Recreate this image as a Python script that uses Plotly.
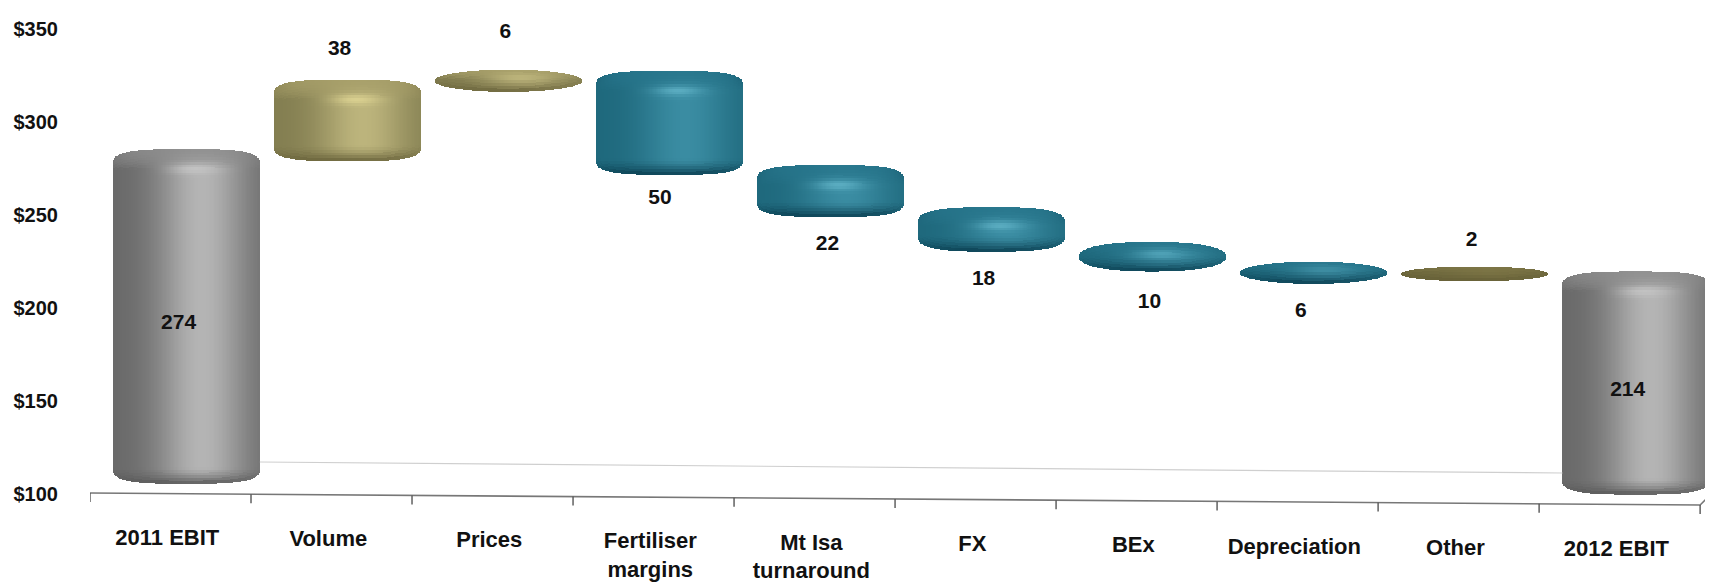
import math
import plotly.graph_objects as go

# ---- chart data ----
categories = ["2011 EBIT", "Volume", "Prices", "Fertiliser<br>margins", "Mt Isa<br>turnaround",
              "FX", "BEx", "Depreciation", "Other", "2012 EBIT"]
bar_bases = [100, 274, 312, 268, 246, 228, 218, 212, 214, 100]
bar_tops = [274, 312, 318, 318, 268, 246, 228, 218, 216, 214]
bar_labels = ["274", "38", "6", "50", "22", "18", "10", "6", "2", "214"]
bar_kinds = ["total", "up", "up", "down", "down", "down", "down", "down", "minor", "total"]
label_values = [191.6, 338.8, 348, 259, 234, 215, 203, 198, 236, 155.5]
label_x_offsets = [0.05, 0.05, 0.08, 0.04, 0.08, 0.05, 0.08, 0.02, 0.08, 0.05]
y_ticks = [100, 150, 200, 250, 300, 350]

# ---- styling / layout constants ----
PAGE_MARGIN = 8
W, H = 1713, 585
LEFT = 90
PX_PER_UNIT = 1.86
Y0_PX = 494
X_MIN, X_MAX = -0.5, 9.58
BAR_SHIFT, BAR_WIDTH = 0.1, 0.91
N_STRIPS = 110
SLICE_PX = 2.5
PALETTE = {
    "total": dict(dark=(104, 104, 104), light=(180, 180, 180), cap=(140, 140, 140), hi=(198, 198, 198), low=(88, 88, 88)),
    "up": dict(dark=(130, 125, 80), light=(188, 180, 124), cap=(165, 157, 104), hi=(224, 214, 148), low=(104, 98, 58)),
    "down": dict(dark=(30, 104, 124), light=(58, 140, 162), cap=(38, 116, 138), hi=(98, 180, 200), low=(10, 62, 80)),
    "minor": dict(dark=(114, 108, 64), light=(132, 124, 74), cap=(124, 117, 70), hi=(132, 124, 74), low=(100, 94, 54)),
}


def units(px):
    return px / PX_PER_UNIT


def val_from_px(py):
    return 100 + (Y0_PX - py) / PX_PER_UNIT


def mix(a, b, t):
    t = max(0.0, min(1.0, t))
    return tuple(a[i] + (b[i] - a[i]) * t for i in range(3))


def rgb(c):
    return "rgb(%d,%d,%d)" % tuple(round(v) for v in c)


def tilt(i):
    return 13 - 1.2 * i  # px the bars sit above the wall scale


def slice_cuts(span, top_zone, bot_zone):
    """Fine slices in the rounded top and bottom, one long slice between them."""
    if top_zone + bot_zone >= span:
        n = max(1, int(span / SLICE_PX))
        return [span * k / n for k in range(n + 1)]
    n_t = max(1, int(top_zone / SLICE_PX))
    n_b = max(1, int(bot_zone / SLICE_PX))
    cuts = [top_zone * k / n_t for k in range(n_t + 1)]
    cuts += [span - bot_zone + bot_zone * k / n_b for k in range(n_b + 1)]
    return cuts


xs, bases, heights, colors, widths = [], [], [], [], []
strip_w = BAR_WIDTH / N_STRIPS
for i, (b0, b1, kind) in enumerate(zip(bar_bases, bar_tops, bar_kinds)):
    pal = PALETTE[kind]
    top_px = Y0_PX - (b1 - 100) * PX_PER_UNIT - tilt(i) - 8
    bot_px = Y0_PX - (b0 - 100) * PX_PER_UNIT - tilt(i) + 2.5
    h_px = bot_px - top_px
    p = 2 + min(1.2, max(0.0, (h_px - 22) / 25))
    rv = min(h_px / 2, 16)
    cap_h = min(20, h_px * 0.42)
    glow_amt = 0.8 * min(1.0, max(0.0, (h_px - 16) / 20))
    for s in range(N_STRIPS):
        u = -1 + (s + 0.5) * 2 / N_STRIPS
        au = abs(u)
        dy = rv * (1 - max(0.0, 1 - au ** p) ** (1 / p))
        t_px, b_px = top_px + dy, bot_px - dy
        f = math.exp(-((u - 0.22) / 0.62) ** 2)
        body = mix(pal["dark"], pal["light"], f)
        span = b_px - t_px
        bot_zone = 16
        cuts = slice_cuts(span, max(0.0, cap_h + 14 - dy), max(0.0, bot_zone - dy))
        for a, b in zip(cuts[:-1], cuts[1:]):
            if b <= a:
                continue
            v = (a + b) / 2 + dy
            col = body
            rim = cap_h
            if v < rim:
                col = mix(pal["cap"], body, 0.15 + 0.85 * (v / rim) ** 2)
                col = mix(col, pal["low"], 0.45 * au ** 8 * (1 - v / rim))
            glow = math.exp(-((v - rim) / 5) ** 2) * math.exp(-((u - 0.12) / 0.3) ** 2)
            col = mix(col, pal["hi"], glow_amt * glow)
            from_bottom = h_px - v
            if from_bottom < bot_zone:
                col = mix(col, pal["low"], 0.95 * (1 - from_bottom / bot_zone) ** 1.6)
            xs.append(i + BAR_SHIFT + u * BAR_WIDTH / 2)
            widths.append(strip_w * 1.12)
            bases.append(val_from_px(t_px + b + 0.3))
            heights.append(units(b - a + 0.6))
            colors.append(rgb(col))

fig = go.Figure()

# floor: back edge, front axis, ticks, corner
back_x = [BAR_SHIFT + BAR_WIDTH / 2, 9 + BAR_SHIFT - BAR_WIDTH / 2]
back_y = [val_from_px(462), val_from_px(473)]
fig.add_trace(go.Scatter(x=back_x, y=back_y, mode="lines", line=dict(color="#cfcfcf", width=1.2), hoverinfo="skip"))


def axis_y(x):
    return val_from_px(493 + 12 * (x + 0.5) / 10)


fig.add_trace(go.Scatter(x=[-0.5, 9.5, 9.58], y=[axis_y(-0.5), axis_y(9.5), val_from_px(492)], mode="lines",
                         line=dict(color="#777777", width=1.6), hoverinfo="skip"))
tx, ty = [], []
for i in range(11):
    x = i - 0.5
    tx += [x, x, None]
    ty += [axis_y(x), axis_y(x) - units(9), None]
fig.add_trace(go.Scatter(x=tx, y=ty, mode="lines", line=dict(color="#555555", width=1.4), hoverinfo="skip"))

fig.add_trace(go.Bar(x=xs, y=heights, base=bases, width=widths, marker=dict(color=colors, line=dict(width=0)),
                     hoverinfo="skip"))

# data labels
fig.add_trace(go.Scatter(x=[i + o for i, o in enumerate(label_x_offsets)], y=label_values, mode="text", text=bar_labels,
                         textfont=dict(family="Liberation Sans", size=21, color="#111111", weight="bold"),
                         textposition="middle center", hoverinfo="skip", cliponaxis=False))

# category labels follow the tilted floor
cat_x = [i - 0.02 for i in range(10)]
cat_y = [val_from_px(535 - 7 + 1.3 * i) for i in range(10)]
fig.add_trace(go.Scatter(x=cat_x, y=cat_y, mode="text", text=categories,
                         textfont=dict(family="Liberation Sans", size=22, color="#111111", weight="bold"),
                         textposition="bottom center", hoverinfo="skip", cliponaxis=False))

fig.update_layout(
    width=W - PAGE_MARGIN, height=H - PAGE_MARGIN,
    margin=dict(l=LEFT - PAGE_MARGIN, r=0, t=0, b=0), autosize=False,
    paper_bgcolor="white", plot_bgcolor="white", showlegend=False, barmode="overlay", bargap=0,
    xaxis=dict(range=[X_MIN, X_MAX], visible=False),
    yaxis=dict(range=[val_from_px(H), val_from_px(PAGE_MARGIN)], tickvals=y_ticks, ticktext=["$%d" % t for t in y_ticks],
               showgrid=False, zeroline=False, showline=False, ticks="outside", ticklen=27, tickcolor="rgba(0,0,0,0)",
               tickfont=dict(family="Liberation Sans", size=20, color="#111111", weight="bold")),
)
fig.write_html("out.html", config=dict(displayModeBar=False))
